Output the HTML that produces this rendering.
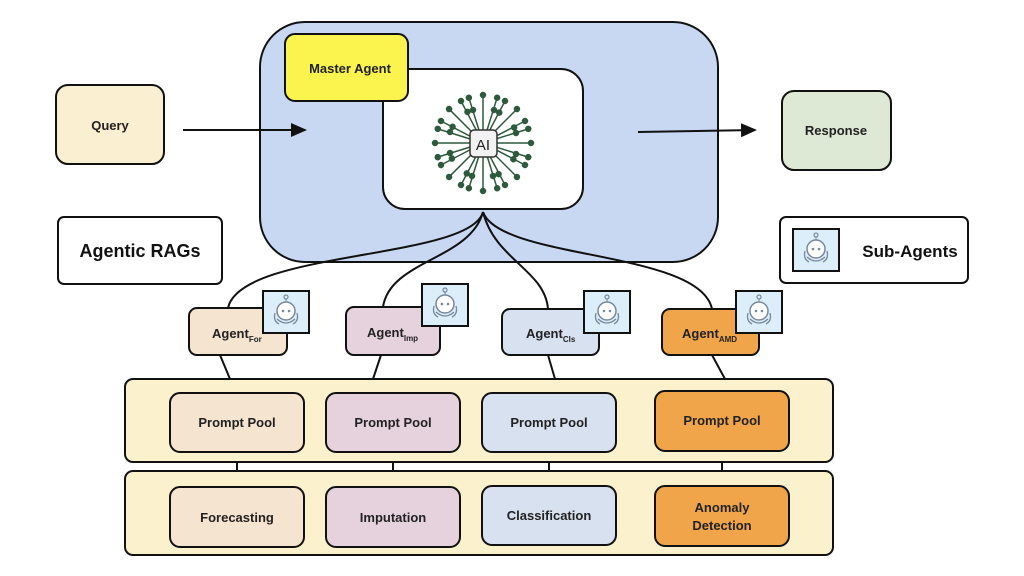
<!DOCTYPE html>
<html><head><meta charset="utf-8"><style>
body{margin:0;background:#fff;width:1024px;height:571px;overflow:hidden;font-family:"Liberation Sans",sans-serif}
</style></head><body>
<svg width="1024" height="571" viewBox="0 0 1024 571" font-family="Liberation Sans, sans-serif" font-weight="bold">
<defs><marker id="ar" markerWidth="8" markerHeight="7" refX="7" refY="3.5" orient="auto"><path d="M0,0L8,3.5L0,7z" fill="#111"/></marker>
<g id="bot"><rect x="0" y="0" width="46" height="42" fill="#dceefa" stroke="#111" stroke-width="2"/>
<circle cx="23" cy="6" r="2" fill="none" stroke="#789" stroke-width="1.2"/><line x1="23" y1="8" x2="23" y2="11" stroke="#789"/>
<circle cx="23" cy="20" r="9" fill="#fff" stroke="#789" stroke-width="1.5"/><circle cx="20" cy="20" r="1.3" fill="#789"/><circle cx="26" cy="20" r="1.3" fill="#789"/>
<path d="M14,28 Q23,36 32,28 M12,22 Q10,30 16,33 M34,22 Q36,30 30,33" fill="none" stroke="#789" stroke-width="1.3"/></g></defs>
<rect x="260" y="22" width="458" height="240" rx="45" fill="#c9d8f2" stroke="#111" stroke-width="2"/>
<rect x="383" y="69" width="200" height="140" rx="22" fill="#fff" stroke="#111" stroke-width="2"/>
<rect x="285" y="34" width="123" height="67" rx="10" fill="#fbf44e" stroke="#111" stroke-width="2"/>
<text x="350" y="73" font-size="13" text-anchor="middle" fill="#222">Master Agent</text>
<g stroke="#2d5a3d" stroke-width="1.5" fill="#2d5a3d">
<g id="ray"><line x1="483" y1="143" x2="483" y2="95"/><circle cx="483" cy="95" r="2.5"/><line x1="483" y1="143" x2="505" y2="101"/><circle cx="505" cy="101" r="2.5"/><line x1="483" y1="143" x2="461" y2="101"/><circle cx="461" cy="101" r="2.5"/><circle cx="473" cy="110" r="2.5"/><circle cx="494" cy="110" r="2.5"/></g>
<use href="#ray" transform="rotate(45 483 143)"/><use href="#ray" transform="rotate(90 483 143)"/><use href="#ray" transform="rotate(135 483 143)"/><use href="#ray" transform="rotate(180 483 143)"/><use href="#ray" transform="rotate(225 483 143)"/><use href="#ray" transform="rotate(270 483 143)"/><use href="#ray" transform="rotate(315 483 143)"/>
</g>
<rect x="470" y="130" width="27" height="27" rx="4" fill="#f2f2f2" stroke="#333" stroke-width="1.5"/>
<text x="483" y="150" font-size="15" font-weight="normal" text-anchor="middle" fill="#222">AI</text>
<rect x="56" y="85" width="108" height="79" rx="12" fill="#faefd0" stroke="#111" stroke-width="2"/>
<text x="110" y="130" font-size="13" text-anchor="middle" fill="#222">Query</text>
<line x1="183" y1="130" x2="305" y2="130" stroke="#111" stroke-width="2" marker-end="url(#ar)"/>
<rect x="782" y="91" width="109" height="79" rx="12" fill="#dde8d5" stroke="#111" stroke-width="2"/>
<text x="836" y="135" font-size="13" text-anchor="middle" fill="#222">Response</text>
<line x1="638" y1="132" x2="755" y2="130" stroke="#111" stroke-width="2" marker-end="url(#ar)"/>
<rect x="58" y="217" width="164" height="67" rx="6" fill="#fff" stroke="#111" stroke-width="2"/>
<text x="140" y="257" font-size="18" text-anchor="middle" fill="#111">Agentic RAGs</text>
<rect x="780" y="217" width="188" height="66" rx="6" fill="#fff" stroke="#111" stroke-width="2"/>
<use href="#bot" x="793" y="229"/>
<text x="910" y="257" font-size="17" text-anchor="middle" fill="#111">Sub-Agents</text>
<g fill="none" stroke="#111" stroke-width="2">
<path d="M483,212 C470,260 240,250 228,308"/>
<path d="M483,212 C470,260 390,260 383,307"/>
<path d="M483,212 C495,260 545,270 548,309"/>
<path d="M483,212 C500,260 700,250 712,309"/>
<path d="M220,355 L230,379 M237,462 V487"/><path d="M381,355 L373,379 M393,462 V487"/><path d="M548,355 L555,379 M549,462 V486"/><path d="M712,355 L725,379 M722,462 V486"/>
</g>
<rect x="125" y="379" width="708" height="83" rx="8" fill="#fbf1cc" stroke="#111" stroke-width="2"/>
<rect x="125" y="471" width="708" height="84" rx="8" fill="#fbf1cc" stroke="#111" stroke-width="2"/>
<g stroke="#111" stroke-width="2">
<rect x="189" y="308" width="98" height="47" rx="8" fill="#f5e4d0"/>
<rect x="346" y="307" width="94" height="48" rx="8" fill="#e6d2dc"/>
<rect x="502" y="309" width="97" height="46" rx="8" fill="#d7e1ef"/>
<rect x="662" y="309" width="97" height="46" rx="8" fill="#f0a54a"/>
<rect x="170" y="393" width="134" height="59" rx="10" fill="#f5e4d0"/>
<rect x="326" y="393" width="134" height="59" rx="10" fill="#e6d2dc"/>
<rect x="482" y="393" width="134" height="59" rx="10" fill="#d7e1ef"/>
<rect x="655" y="391" width="134" height="60" rx="10" fill="#f0a54a"/>
<rect x="170" y="487" width="134" height="60" rx="10" fill="#f5e4d0"/>
<rect x="326" y="487" width="134" height="60" rx="10" fill="#e6d2dc"/>
<rect x="482" y="486" width="134" height="59" rx="10" fill="#d7e1ef"/>
<rect x="655" y="486" width="134" height="60" rx="10" fill="#f0a54a"/>
</g>
<use href="#bot" x="263" y="291"/><use href="#bot" x="422" y="284"/><use href="#bot" x="584" y="291"/><use href="#bot" x="736" y="291"/>
<g font-size="13" fill="#222">
<text x="212" y="338">Agent<tspan font-size="8" dy="4">For</tspan></text>
<text x="367" y="337">Agent<tspan font-size="8" dy="4">Imp</tspan></text>
<text x="526" y="338">Agent<tspan font-size="8" dy="4">Cls</tspan></text>
<text x="682" y="338">Agent<tspan font-size="8" dy="4">AMD</tspan></text>
</g>
<g font-size="13" fill="#222" text-anchor="middle">
<text x="237" y="427">Prompt Pool</text><text x="393" y="427">Prompt Pool</text><text x="549" y="427">Prompt Pool</text><text x="722" y="425">Prompt Pool</text>
<text x="237" y="522">Forecasting</text><text x="393" y="522">Imputation</text><text x="549" y="520">Classification</text>
<text x="722" y="512">Anomaly</text><text x="722" y="530">Detection</text>
</g>
</svg>
</body></html>
